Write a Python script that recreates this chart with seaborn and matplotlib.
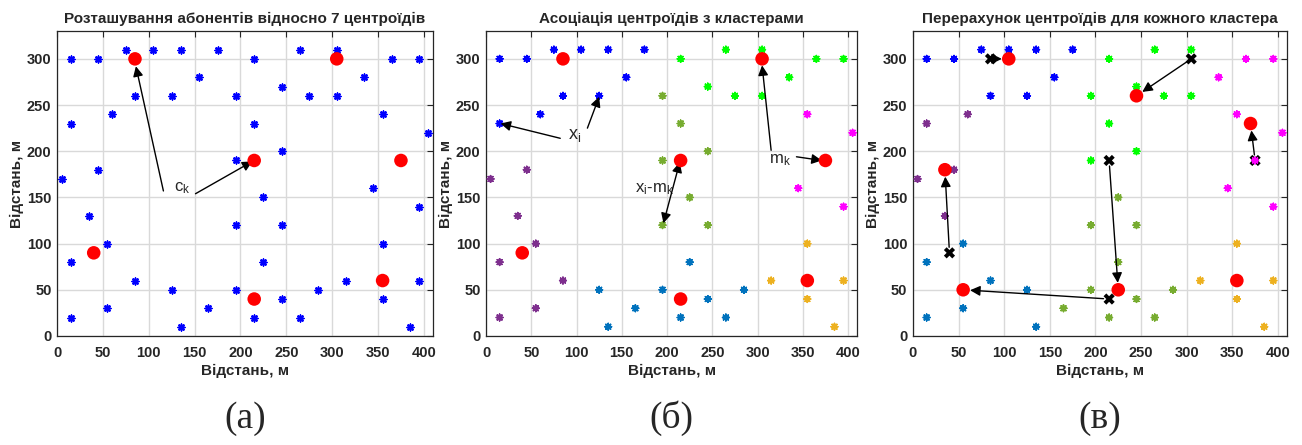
import numpy as np
import pandas as pd
import matplotlib
matplotlib.use("Agg")
import matplotlib.pyplot as plt
import seaborn as sns

# ---------------------------------------------------------------------------
# Data
# ---------------------------------------------------------------------------
point_x = [5, 15, 15, 45, 45, 60, 75, 85, 105, 125, 135, 155, 175, 195, 195,
           215, 215, 225, 245, 245, 275, 265, 305, 305, 335, 345, 355, 365,
           395, 405, 15, 15, 35, 55, 55, 85, 125, 135, 165, 195, 195, 215,
           225, 245, 245, 265, 285, 315, 355, 355, 385, 395, 395, 375]
point_y = [170, 300, 230, 300, 180, 240, 310, 260, 310, 260, 310, 280, 310,
           260, 190, 300, 230, 150, 270, 200, 260, 310, 310, 260, 280, 160,
           240, 300, 300, 220, 80, 20, 130, 100, 30, 60, 50, 10, 30, 120, 50,
           20, 80, 120, 40, 20, 50, 60, 100, 40, 10, 140, 60, 190]

# cluster labels after the first assignment (б) and after recomputation (в)
cluster_b = ["P", "B", "B", "B", "P", "B", "B", "B", "B", "B", "B", "B", "B",
             "O", "O", "G", "O", "O", "G", "O", "G", "G", "G", "G", "G", "M",
             "M", "G", "G", "M", "P", "P", "P", "P", "P", "P", "L", "L", "L",
             "O", "L", "L", "L", "O", "L", "L", "L", "Y", "Y", "Y", "Y", "M",
             "Y", "M"]
cluster_c = ["P", "B", "P", "B", "P", "P", "B", "B", "B", "B", "B", "B", "B",
             "G", "G", "G", "G", "O", "G", "G", "G", "G", "G", "G", "M", "M",
             "M", "M", "M", "M", "L", "L", "P", "L", "L", "L", "L", "L", "O",
             "O", "O", "O", "O", "O", "O", "O", "O", "Y", "Y", "Y", "Y", "M",
             "Y", "M"]

centroid_old_x = [85, 305, 215, 375, 40, 215, 355]
centroid_old_y = [300, 300, 190, 190, 90, 40, 60]
centroid_new_x = [105, 245, 225, 370, 35, 55, 355]
centroid_new_y = [300, 260, 50, 230, 180, 50, 60]

cluster_colors = {
    "B": "#0000FF", "G": "#00FF00", "O": "#77AC30", "M": "#FF00FF",
    "P": "#7E2F8E", "L": "#0072BD", "Y": "#EDB120",
}

titles = ["Розташування абонентів відносно 7 центроїдів",
          "Асоціація центроїдів з кластерами",
          "Перерахунок центроїдів для кожного кластера"]
panel_tags = ["(а)", "(б)", "(в)"]

# ---------------------------------------------------------------------------
# Style
# ---------------------------------------------------------------------------
sns.set_style("white")
plt.rcParams["font.family"] = ["Liberation Sans", "DejaVu Sans"]
plt.rcParams["mathtext.fontset"] = "custom"
plt.rcParams["mathtext.rm"] = "Liberation Sans"
plt.rcParams["mathtext.it"] = "Liberation Sans"

fig = plt.figure(figsize=(13.02, 4.45), dpi=100)
positions = [[0.0438, 0.245, 0.2888, 0.685],
             [0.3733, 0.245, 0.2850, 0.685],
             [0.7012, 0.245, 0.2873, 0.685]]
axes = [fig.add_axes(p) for p in positions]

df = pd.DataFrame({"x": point_x, "y": point_y,
                   "cb": cluster_b, "cc": cluster_c})
star = (8, 2, 0)
star_size = 22
arrow_kw = dict(arrowstyle="-|>", color="black", lw=1.0,
                mutation_scale=15, shrinkA=0, shrinkB=0)


def style_axes(ax, title):
    ax.set_xlim(0, 410)
    ax.set_ylim(0, 330)
    ax.set_xticks(np.arange(0, 401, 50))
    ax.set_yticks(np.arange(0, 301, 50))
    ax.grid(True, color="#d9d9d9", lw=1.0, zorder=0)
    ax.set_axisbelow(True)
    ax.tick_params(direction="in", top=True, right=True, length=4,
                   colors="#262626", labelsize=10.5)
    ax.tick_params(axis="x", pad=7)
    ax.tick_params(axis="y", pad=4)
    for lab in ax.get_xticklabels() + ax.get_yticklabels():
        lab.set_fontweight("bold")
    for sp in ax.spines.values():
        sp.set_color("#262626")
        sp.set_linewidth(0.9)
    ax.set_xlabel("Відстань, м", fontsize=11, fontweight="bold",
                  color="#262626", labelpad=3)
    ax.set_ylabel("Відстань, м", fontsize=11, fontweight="bold",
                  color="#262626", labelpad=2)
    ax.set_title(title, fontsize=11, fontweight="bold", pad=6)


def draw_centroids(ax, cx, cy):
    sns.scatterplot(x=cx, y=cy, color="red", s=95, marker="o",
                    edgecolor="none", ax=ax, zorder=5, legend=False)


# (а) all subscribers in one colour
ax = axes[0]
sns.scatterplot(data=df, x="x", y="y", color="blue", marker=star,
                s=star_size, linewidth=1.2, ax=ax, zorder=3, legend=False)
draw_centroids(ax, centroid_old_x, centroid_old_y)
ax.text(127, 160, r"c$_{\mathrm{k}}$", fontsize=12, va="center", ha="left")
ax.annotate("", xy=(86, 292), xytext=(116, 157), arrowprops=arrow_kw)
ax.annotate("", xy=(213, 189), xytext=(151, 154), arrowprops=arrow_kw)

# (б) association to clusters
ax = axes[1]
sns.scatterplot(data=df, x="x", y="y", hue="cb", palette=cluster_colors,
                marker=star, s=star_size, linewidth=1.2, ax=ax, zorder=3,
                legend=False)
draw_centroids(ax, centroid_old_x, centroid_old_y)
ax.text(91, 217, r"x$_{\mathrm{i}}$", fontsize=13, va="center", ha="left")
ax.annotate("", xy=(16, 230), xytext=(82, 214), arrowprops=arrow_kw)
ax.annotate("", xy=(125, 259), xytext=(112, 225), arrowprops=arrow_kw)
ax.text(313, 190, r"m$_{\mathrm{k}}$", fontsize=12, va="center", ha="left")
ax.annotate("", xy=(305, 293), xytext=(315, 201), arrowprops=arrow_kw)
ax.annotate("", xy=(371, 190), xytext=(343, 194), arrowprops=arrow_kw)
ax.text(165, 159, r"x$_{\mathrm{i}}$-m$_{\mathrm{k}}$", fontsize=12,
        va="center", ha="left")
ax.annotate("", xy=(214, 188), xytext=(196, 122),
            arrowprops=dict(arrow_kw, arrowstyle="<|-|>"))

# (в) recomputed centroids
ax = axes[2]
sns.scatterplot(x=centroid_old_x, y=centroid_old_y, color="black",
                marker="X", s=65, edgecolor="none", ax=ax, zorder=2,
                legend=False)
sns.scatterplot(data=df, x="x", y="y", hue="cc", palette=cluster_colors,
                marker=star, s=star_size, linewidth=1.2, ax=ax, zorder=3,
                legend=False)
for ox, oy, nx, ny in zip(centroid_old_x, centroid_old_y,
                          centroid_new_x, centroid_new_y):
    if (ox, oy) == (nx, ny):
        continue
    ax.annotate("", xy=(nx, ny), xytext=(ox, oy),
                arrowprops=dict(arrow_kw, shrinkA=4, shrinkB=5))
draw_centroids(ax, centroid_new_x, centroid_new_y)

for ax, title, tag in zip(axes, titles, panel_tags):
    style_axes(ax, title)
    bb = ax.get_position()
    fig.text(bb.x0 + bb.width / 2, 0.06, tag, ha="center", va="center",
             fontsize=27, family="Liberation Serif")

fig.savefig("out.png", dpi=100)
